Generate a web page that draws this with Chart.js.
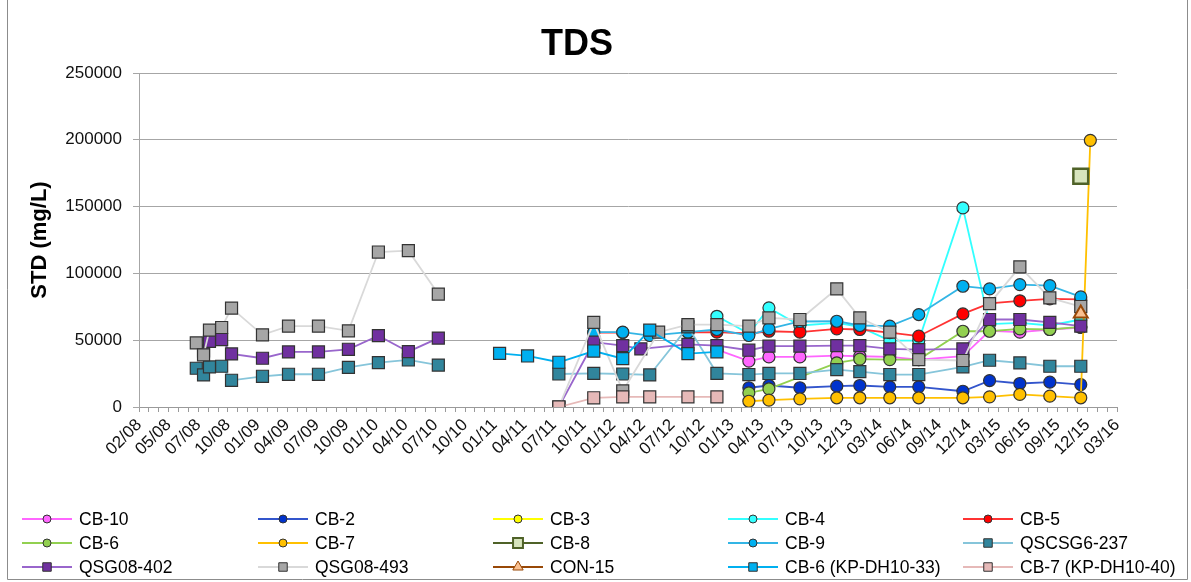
<!DOCTYPE html>
<html>
<head>
<meta charset="utf-8">
<title>TDS</title>
<script src="https://cdn.jsdelivr.net/npm/chart.js@4.4.0/dist/chart.umd.min.js"></script>
<style>
html, body { margin: 0; padding: 0; background: #fff; }
#wrap { position: relative; width: 1191px; height: 582px; }
</style>
</head>
<body>
<div id="wrap"><canvas id="tdsChart" width="1191" height="582"></canvas></div>
<script>
/* TDS - sampling dates and values per well */
var tickLabels = ['02/08', '05/08', '07/08', '10/08', '01/09', '04/09', '07/09', '10/09', '01/10', '04/10', '07/10', '10/10',
	'01/11', '04/11', '07/11', '10/11', '01/12', '04/12', '07/12', '10/12', '01/13', '04/13', '07/13', '10/13',
	'12/13', '03/14', '06/14', '09/14', '12/14', '03/15', '06/15', '09/15', '12/15', '03/16'];
var yTicks = [0, 50000, 100000, 150000, 200000, 250000];

var CB10 = [['2012-11-21', 43000], ['2013-02-26', 34300], ['2013-04-28', 37500], ['2013-07-31', 37500], ['2013-11-20', 38500],
	['2014-01-29', 38000], ['2014-04-30', 37500], ['2014-07-27', 35500], ['2014-12-08', 38000], ['2015-02-27', 57000],
	['2015-05-30', 56000], ['2015-08-29', 58000], ['2015-12-01', 59500]];
var CB2 = [['2013-02-26', 14400], ['2013-04-28', 16100], ['2013-07-31', 14400], ['2013-11-20', 15600], ['2014-01-29', 16100],
	['2014-04-30', 15100], ['2014-07-27', 15100], ['2014-12-08', 11800], ['2015-02-27', 19800], ['2015-05-30', 17600],
	['2015-08-29', 18600], ['2015-12-01', 16800]];
var CB3 = [];
var CB4 = [['2012-11-21', 67900], ['2013-02-26', 55000], ['2013-04-28', 74200], ['2013-07-31', 61000], ['2013-11-20', 63000],
	['2014-01-29', 60000], ['2014-04-30', 49700], ['2014-07-27', 49700], ['2014-12-08', 149000], ['2015-02-27', 62000],
	['2015-05-30', 63000], ['2015-08-29', 61000], ['2015-12-01', 65500]];
var CB5 = [['2011-11-13', 55700], ['2012-02-09', 55700], ['2012-05-01', null], ['2012-08-25', 55800], ['2012-11-21', 56000],
	['2013-02-26', 55000], ['2013-04-28', 56700], ['2013-07-31', 56000], ['2013-11-20', 58500], ['2014-01-29', 58000],
	['2014-04-30', 55700], ['2014-07-27', 53000], ['2014-12-08', 69700], ['2015-02-27', 77500], ['2015-05-30', 79500],
	['2015-08-29', 81000], ['2015-12-01', 80500]];
var CB6 = [['2013-02-26', 10600], ['2013-04-28', 13600], ['2013-11-20', 33000], ['2014-01-29', 35800], ['2014-04-30', 35500],
	['2014-07-27', 35500], ['2014-12-08', 56700], ['2015-02-27', 56700], ['2015-05-30', 58500], ['2015-08-29', 58000],
	['2015-12-01', 60000]];
var CB7 = [['2013-02-26', 4300], ['2013-04-28', 5100], ['2013-07-31', 6100], ['2013-11-20', 6900], ['2014-01-29', 6900],
	['2014-04-30', 6900], ['2014-07-27', 6900], ['2014-12-08', 6900], ['2015-02-27', 7600], ['2015-05-30', 9400],
	['2015-08-29', 8100], ['2015-12-01', 6900], ['2015-12-30', 199600]];
var CB8 = [['2015-12-01', 172700]];
var CB9 = [['2011-11-13', 56000], ['2012-02-09', 56000], ['2012-05-01', 53500], ['2012-08-25', 56000], ['2012-11-21', 58000],
	['2013-02-26', 53500], ['2013-04-28', 58500], ['2013-07-31', 64000], ['2013-11-20', 64200], ['2014-01-29', 61000],
	['2014-04-30', 60500], ['2014-07-27', 69200], ['2014-12-08', 90400], ['2015-02-27', 88400], ['2015-05-30', 91600],
	['2015-08-29', 90900], ['2015-12-01', 82400]];
var QSCSG6_237 = [['2008-07-24', 29000], ['2008-08-15', 24000], ['2008-09-02', 30000], ['2008-10-09', 30500], ['2008-11-08', 20000],
	['2009-02-10', 23000], ['2009-04-30', 24500], ['2009-07-30', 24500], ['2009-10-29', 29700], ['2010-01-28', 33200],
	['2010-04-29', 35200], ['2010-07-29', 31400], ['2011-01-01', null], ['2011-07-30', 24700], ['2011-11-13', 25200],
	['2012-02-09', 24700], ['2012-05-01', 24000], ['2012-08-25', 60000], ['2012-11-21', 25200], ['2013-02-26', 24300],
	['2013-04-28', 25100], ['2013-07-31', 25100], ['2013-11-20', 28000], ['2014-01-29', 26500], ['2014-04-30', 24300],
	['2014-07-27', 24300], ['2014-12-08', 30100], ['2015-02-27', 35000], ['2015-05-30', 33000], ['2015-08-29', 30500],
	['2015-12-01', 30500]];
var QSG08_402 = [['2008-08-15', 42000], ['2008-09-02', 49200], ['2008-10-09', 50500], ['2008-11-08', 39700], ['2009-02-10', 36500],
	['2009-04-30', 41200], ['2009-07-30', 41200], ['2009-10-29', 43200], ['2010-01-28', 53400], ['2010-04-29', 41400],
	['2010-07-29', 51600], ['2011-01-01', null], ['2011-07-30', 0], ['2011-11-13', 48500], ['2012-02-09', 46000],
	['2012-04-04', 43500], ['2012-08-25', 46800], ['2012-11-21', 46000], ['2013-02-26', 42500], ['2013-04-28', 45500],
	['2013-07-31', 45500], ['2013-11-20', 46000], ['2014-01-29', 46000], ['2014-04-30', 43500], ['2014-07-27', 43000],
	['2014-12-08', 43500], ['2015-02-27', 65500], ['2015-05-30', 65500], ['2015-08-29', 63400], ['2015-12-01', 60500]];
var QSG08_493 = [['2008-07-24', 48000], ['2008-08-15', 39000], ['2008-09-02', 57500], ['2008-10-09', 59500], ['2008-11-08', 74000],
	['2009-02-10', 54000], ['2009-04-30', 60500], ['2009-07-30', 60500], ['2009-10-29', 57000], ['2010-01-28', 116000],
	['2010-04-29', 117000], ['2010-07-29', 84500], ['2011-01-01', null], ['2011-07-30', 0], ['2011-11-13', 63400],
	['2012-02-09', 12000], ['2012-05-28', 56000], ['2012-08-25', 61700], ['2012-11-21', 61700], ['2013-02-26', 60500],
	['2013-04-28', 66700], ['2013-07-31', 65500], ['2013-11-20', 88400], ['2014-01-29', 66700], ['2014-04-30', 56000],
	['2014-07-27', 35500], ['2014-12-08', 34800], ['2015-02-27', 77400], ['2015-05-30', 104900], ['2015-08-29', 81700],
	['2015-12-01', 75200]];
var CON15 = [['2015-12-01', 70000]];
var CB6_KP = [['2011-01-31', 40100], ['2011-04-26', 38200], ['2011-07-30', 33500], ['2011-11-13', 41900], ['2012-02-09', 36200],
	['2012-05-01', 57500], ['2012-08-25', 40000], ['2012-11-21', 41300]];
var CB7_KP = [['2011-07-30', 0], ['2011-11-13', 6900], ['2012-02-09', 7600], ['2012-05-01', 7600], ['2012-08-25', 7600],
	['2012-11-21', 7600]];

var FONT = "'Liberation Sans', Arial, sans-serif";
var BASE = Date.UTC(2008, 1, 1);

function dayOf(s) {
	var p = s.split('-');
	return (Date.UTC(+p[0], +p[1] - 1, +p[2]) - BASE) / 864e5;
}

// name, data, line colour, marker fill, marker border, style, radius
var seriesDefs = [
	['CB-10', CB10, '#FF66FF', '#FF66FF', '#333', 'circle', 6],
	['CB-2', CB2, '#3355CC', '#0033CC', '#333', 'circle', 6],
	['CB-3', CB3, '#FFFF00', '#FFFF00', '#333', 'circle', 6],
	['CB-4', CB4, '#33FFFF', '#33FFFF', '#333', 'circle', 6],
	['CB-5', CB5, '#FF3333', '#FF0000', '#333', 'circle', 6],
	['CB-6', CB6, '#92D050', '#92D050', '#333', 'circle', 6],
	['CB-7', CB7, '#FFC000', '#FFC000', '#333', 'circle', 6],
	['CB-8', CB8, '#4F6228', '#D7E4BD', '#4F6228', 'rect', 10.5],
	['CB-9', CB9, '#33B5E5', '#00B0F0', '#333', 'circle', 6],
	['QSCSG6-237', QSCSG6_237, '#86C5DA', '#31859C', '#333', 'rect', 8.5],
	['QSG08-402', QSG08_402, '#9966CC', '#7030A0', '#333', 'rect', 8.5],
	['QSG08-493', QSG08_493, '#D9D9D9', '#A6A6A6', '#333', 'rect', 8.5],
	['CON-15', CON15, '#984807', '#FAC090', '#984807', 'triangle', 8],
	['CB-6 (KP-DH10-33)', CB6_KP, '#00B0F0', '#00B0F0', '#333', 'rect', 8.5],
	['CB-7 (KP-DH10-40)', CB7_KP, '#E6B9B8', '#E6B9B8', '#333', 'rect', 8.5]
];

var datasets = seriesDefs.map(function (s, i) {
	return {
		label: s[0],
		data: s[1].map(function (p) { return { x: dayOf(p[0]), y: p[1] }; }),
		borderColor: s[2],
		backgroundColor: s[3],
		pointBackgroundColor: s[3],
		pointBorderColor: s[4],
		pointBorderWidth: (s[0] === 'CB-8') ? 2.5 : (s[0] === 'CON-15' ? 2 : 1.2),
		pointStyle: s[5],
		pointRadius: s[6],
		borderWidth: 1.8,
		tension: 0,
		spanGaps: false,
		order: seriesDefs.length - i
	};
});

// title, frame and the 5 column legend
var tdsDecor = {
	id: 'tdsDecor',
	beforeDraw: function (chart) {
		var ctx = chart.ctx;
		ctx.save();
		ctx.fillStyle = '#fff';
		ctx.fillRect(0, 0, chart.width, chart.height);
		ctx.restore();
	},
	afterDraw: function (chart) {
		var ctx = chart.ctx;
		ctx.save();
		ctx.fillStyle = '#000';
		ctx.font = 'bold 36px ' + FONT;
		ctx.textAlign = 'center';
		ctx.textBaseline = 'middle';
		ctx.fillText('TDS', 577, 45);

		ctx.strokeStyle = '#8c8c8c';
		ctx.lineWidth = 1;
		ctx.beginPath();
		ctx.moveTo(7.5, 0);
		ctx.lineTo(7.5, 579.5);
		ctx.lineTo(1187.5, 579.5);
		ctx.lineTo(1187.5, 0);
		ctx.stroke();

		var cols = [22, 258, 493, 728, 963];
		var rows = [519, 543, 567];
		ctx.font = '17.5px ' + FONT;
		ctx.textAlign = 'left';
		chart.data.datasets.forEach(function (ds, i) {
			var x = cols[i % 5], y = rows[Math.floor(i / 5)];
			ctx.strokeStyle = ds.borderColor;
			ctx.lineWidth = 2;
			ctx.beginPath();
			ctx.moveTo(x, y);
			ctx.lineTo(x + 50, y);
			ctx.stroke();
			ctx.fillStyle = ds.pointBackgroundColor;
			ctx.strokeStyle = ds.pointBorderColor;
			ctx.lineWidth = ds.pointStyle === 'rect' && ds.label === 'CB-8' ? 2 : 1;
			var r = ds.pointStyle === 'circle' ? 4 : (ds.label === 'CB-8' ? 7 : 6);
			Chart.helpers.drawPoint(ctx, { pointStyle: ds.pointStyle, radius: r, rotation: 0, borderWidth: ctx.lineWidth }, x + 25, y);
			ctx.fillStyle = '#000';
			ctx.fillText(ds.label, x + 57, y + 1);
		});
		ctx.restore();
	}
};

var ctx1 = document.getElementById('tdsChart');
var tdsChart = new Chart(ctx1, {
	type: 'line',
	data: { datasets: datasets },
	options: {
		responsive: false,
		animation: false,
		events: [],
		layout: {
			padding: { top: 73, right: 74, bottom: 93, left: 0 }
		},
		plugins: {
			legend: { display: false },
			tooltip: { enabled: false },
			title: { display: false }
		},
		scales: {
			x: {
				type: 'linear',
				min: 0,
				max: (tickLabels.length - 1) * 90,
				afterBuildTicks: function (axis) {
					var t = [];
					for (var d = 0; d <= (tickLabels.length - 1) * 90; d += 30) t.push({ value: d });
					axis.ticks = t;
				},
				afterFit: function (axis) { axis.height = 82; },
				ticks: {
					autoSkip: false,
					maxRotation: 45,
					minRotation: 45,
					padding: 3,
					color: '#111',
					font: { family: FONT, size: 17 },
					callback: function (v) {
						return (v % 90 === 0) ? tickLabels[v / 90] : '';
					}
				},
				grid: {
					display: true,
					drawOnChartArea: false,
					drawTicks: true,
					tickLength: 5,
					color: '#9a9a9a'
				},
				border: { display: true, color: '#9a9a9a' }
			},
			y: {
				min: 0,
				max: 250000,
				afterBuildTicks: function (axis) {
					axis.ticks = yTicks.map(function (v) { return { value: v }; });
				},
				afterFit: function (axis) { axis.width = 139; },
				ticks: {
					color: '#111',
					padding: 11,
					font: { family: FONT, size: 17 },
					callback: function (v) { return String(v); }
				},
				grid: {
					color: '#a6a6a6',
					tickLength: 6,
					lineWidth: 1
				},
				border: { display: true, color: '#a6a6a6' },
				title: {
					display: true,
					text: 'STD (mg/L)',
					color: '#000',
					font: { family: FONT, size: 22, weight: 'bold' },
					padding: { top: 27, bottom: 0 }
				}
			}
		}
	},
	plugins: [tdsDecor]
});
</script>
</body>
</html>
